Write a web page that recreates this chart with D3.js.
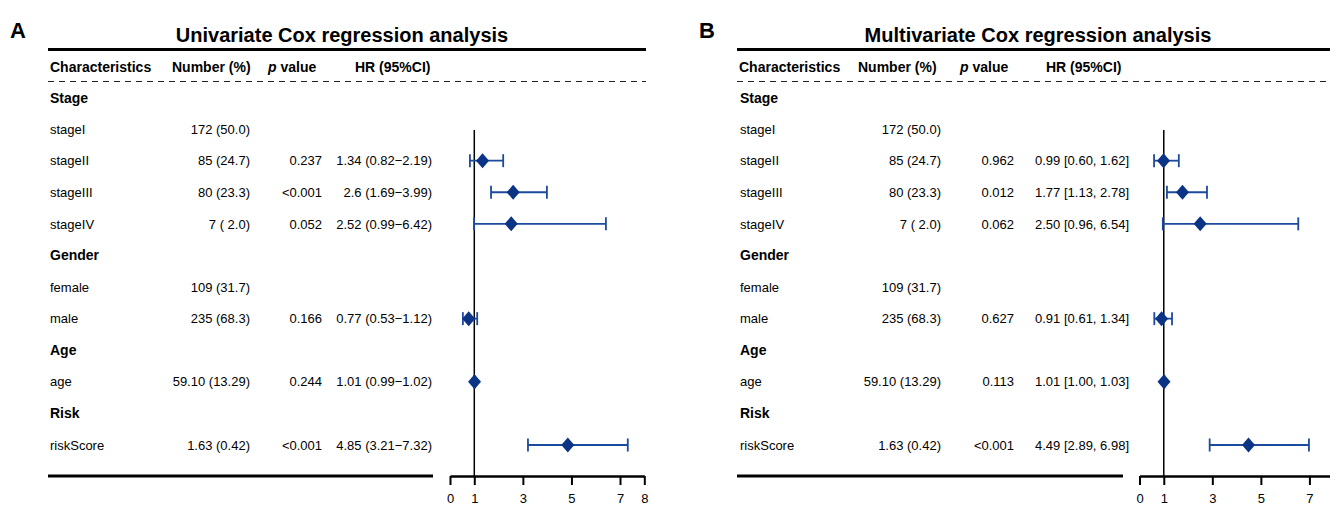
<!DOCTYPE html>
<html>
<head>
<meta charset="utf-8">
<script src="https://cdn.jsdelivr.net/npm/d3@7"></script>
<style>
  body { margin: 0; background: #fff; }
  svg { display: block; font-family: "Liberation Sans", Arial, sans-serif; }
</style>
</head>
<body>
<script>
// rows of the table (same for both panels)
const rowLabels = ["Stage", "stageI", "stageII", "stageIII", "stageIV", "Gender", "female", "male", "Age", "age", "Risk", "riskScore"]
const groupRows = ["Stage", "Gender", "Age", "Risk"]
const numbers = ["", "172 (50.0)", "85 (24.7)", "80 (23.3)", "7 ( 2.0)", "", "109 (31.7)", "235 (68.3)", "", "59.10 (13.29)", "", "1.63 (0.42)"]

// univariate
const uniP = ["", "", "0.237", "<0.001", "0.052", "", "", "0.166", "", "0.244", "", "<0.001"]
const uniHR = [null, null, 1.34, 2.6, 2.52, null, null, 0.77, null, 1.01, null, 4.85]
const uniLow = [null, null, 0.82, 1.69, 0.99, null, null, 0.53, null, 0.99, null, 3.21]
const uniHigh = [null, null, 2.19, 3.99, 6.42, null, null, 1.12, null, 1.02, null, 7.32]

// multivariate
const multiP = ["", "", "0.962", "0.012", "0.062", "", "", "0.627", "", "0.113", "", "<0.001"]
const multiHR = [null, null, 0.99, 1.77, 2.50, null, null, 0.91, null, 1.01, null, 4.49]
const multiLow = [null, null, 0.60, 1.13, 0.96, null, null, 0.61, null, 1.00, null, 2.89]
const multiHigh = [null, null, 1.62, 2.78, 6.54, null, null, 1.34, null, 1.03, null, 6.98]

const headers = ["Characteristics", "Number (%)", "p value", "HR (95%CI)"]
const uniTicks = [0, 1, 3, 5, 7, 8]
const multiTicks = [0, 1, 3, 5, 7]

const W = 1330, H = 505
const lineCol = "#1c4a9c"
const dotCol = "#0b3386"

const svg = d3.select("body").append("svg")
    .attr("width", W)
    .attr("height", H)

const y = d3.scaleLinear().domain([0, rowLabels.length - 1]).range([97.5, 445])

function drawPanel(p) {
    const g = svg.append("g")

    g.append("text")
        .attr("x", p.letterX).attr("y", 38)
        .attr("font-size", 22).attr("font-weight", "bold")
        .text(p.letter)

    g.append("text")
        .attr("x", p.titleX).attr("y", 42)
        .attr("text-anchor", "middle")
        .attr("font-size", 20).attr("font-weight", "bold")
        .text(p.title)

    // top thick rule
    g.append("line")
        .attr("x1", p.left).attr("x2", p.right)
        .attr("y1", 49.5).attr("y2", 49.5)
        .attr("stroke", "#000").attr("stroke-width", 3)

    // headers
    const hdr = g.append("g").attr("font-size", 14).attr("font-weight", "bold")
    headers.forEach((h, i) => {
        const t = hdr.append("text")
            .attr("x", p.headX[i]).attr("y", 71.5)
        if (h == "p value") {
            t.append("tspan").attr("font-style", "italic").text("p")
            t.append("tspan").text(" value")
        } else {
            t.text(h)
        }
    })

    g.append("line")
        .attr("x1", p.left).attr("x2", p.right)
        .attr("y1", 81.5).attr("y2", 81.5)
        .attr("stroke", "#222").attr("stroke-width", 1.2)
        .attr("stroke-dasharray", "6,5")

    // table body
    rowLabels.forEach((lab, i) => {
        const isGroup = groupRows.includes(lab)
        g.append("text")
            .attr("x", p.labelX).attr("y", y(i)).attr("dy", "0.36em")
            .attr("font-size", isGroup ? 14 : 13)
            .attr("font-weight", isGroup ? "bold" : "normal")
            .text(lab)
        if (numbers[i]) {
            g.append("text")
                .attr("x", p.numX).attr("y", y(i)).attr("dy", "0.36em")
                .attr("text-anchor", "end").attr("font-size", 13)
                .text(numbers[i])
        }
        if (p.pv[i]) {
            g.append("text")
                .attr("x", p.pX).attr("y", y(i)).attr("dy", "0.36em")
                .attr("text-anchor", "end").attr("font-size", 13)
                .text(p.pv[i])
        }
        if (p.hr[i] != null) {
            g.append("text")
                .attr("x", p.hrX).attr("y", y(i)).attr("dy", "0.36em")
                .attr("text-anchor", "end").attr("font-size", 13)
                .text(p.fmt(p.hr[i], p.lo[i], p.hi[i]))
        }
    })

    // bottom rule of the table
    g.append("line")
        .attr("x1", p.left).attr("x2", p.tableRight)
        .attr("y1", 476).attr("y2", 476)
        .attr("stroke", "#000").attr("stroke-width", 3)

    // forest plot
    const x = d3.scaleLinear().domain([0, 8]).range(p.plotRange)

    g.append("line")
        .attr("x1", x(1)).attr("x2", x(1))
        .attr("y1", 130).attr("y2", 476)
        .attr("stroke", "#000").attr("stroke-width", 1.5)

    const idx = d3.range(rowLabels.length).filter(i => p.hr[i] != null)
    const ci = g.append("g").attr("stroke", lineCol).attr("stroke-width", 1.8)
    idx.forEach(i => {
        ci.append("line")
            .attr("x1", x(p.lo[i])).attr("x2", x(p.hi[i]))
            .attr("y1", y(i)).attr("y2", y(i))
        ;[p.lo[i], p.hi[i]].forEach(v => {
            ci.append("line")
                .attr("x1", x(v)).attr("x2", x(v))
                .attr("y1", y(i) - 6.5).attr("y2", y(i) + 6.5)
        })
    })
    g.selectAll(".pt")
        .data(idx)
        .enter().append("path")
        .attr("class", "pt")
        .attr("d", i => `M${x(p.hr[i])},${y(i) - 7.5}l6.5,7.5l-6.5,7.5l-6.5,-7.5z`)
        .attr("fill", dotCol)

    const axis = g.append("g")
        .attr("transform", "translate(0,476)")
        .call(d3.axisBottom(x).tickValues(p.ticks).tickSize(9).tickSizeOuter(0).tickPadding(9))
    axis.select(".domain").attr("stroke", "#000").attr("stroke-width", 2.5)
    axis.selectAll(".tick line").attr("stroke", "#000").attr("stroke-width", 2)
    axis.selectAll(".tick text")
        .attr("font-size", 13).attr("fill", "#000")
        .attr("font-family", "Liberation Sans, Arial, sans-serif")
}

drawPanel({
    letter: "A", letterX: 10,
    title: "Univariate Cox regression analysis", titleX: 342,
    left: 48, right: 646, tableRight: 433,
    headX: [50, 172, 268, 355],
    labelX: 50, numX: 250, pX: 322, hrX: 432,
    pv: uniP, hr: uniHR, lo: uniLow, hi: uniHigh,
    fmt: (h, l, u) => `${h} (${l}\u2212${u})`,
    plotRange: [450, 644.3], ticks: uniTicks
})

drawPanel({
    letter: "B", letterX: 699,
    title: "Multivariate Cox regression analysis", titleX: 1038,
    left: 737, right: 1330, tableRight: 1123,
    headX: [739, 858, 960, 1046],
    labelX: 740, numX: 941, pX: 1014, hrX: 1129,
    pv: multiP, hr: multiHR, lo: multiLow, hi: multiHigh,
    fmt: (h, l, u) => `${h.toFixed(2)} [${l.toFixed(2)}, ${u.toFixed(2)}]`,
    plotRange: [1139.5, 1333.7], ticks: multiTicks
})
</script>
</body>
</html>
